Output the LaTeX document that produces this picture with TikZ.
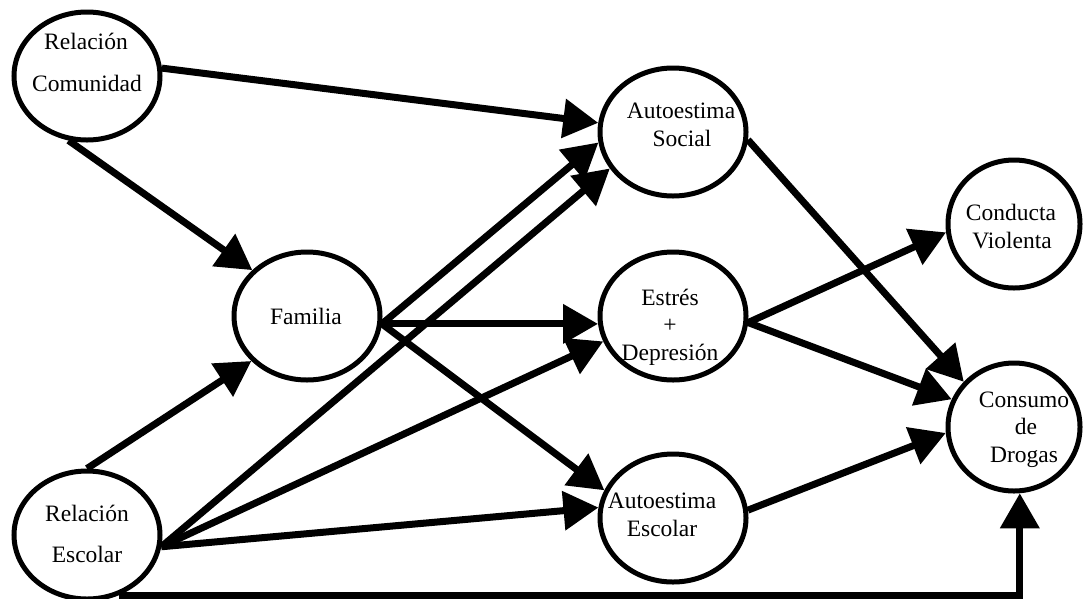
\documentclass[tikz,border=0pt]{standalone}
\usepackage{fontspec}
\setmainfont{Liberation Serif}
\usetikzlibrary{arrows.meta,shapes.geometric}
\begin{document}
\begin{tikzpicture}[x=1pt,y=-1pt,
  blob/.style={ellipse, draw, line width=5pt, inner sep=0pt, minimum width=146pt, minimum height=128pt},
  narrowblob/.style={blob, minimum width=132pt},
  txt/.style={anchor=base, inner sep=0pt, font=\fontsize{23.5}{28}\selectfont},
  arr/.style={line width=7pt, -{Triangle[length=35pt,width=38pt]}}]
\useasboundingbox (0,0) rectangle (1083,598);
% ellipses
\node[blob] (rc) at (87,76) {};
\node[blob] (fam) at (307,316) {};
\node[blob] (as) at (673,132) {};
\node[blob] (ed) at (673,316) {};
\node[blob] (aes) at (673,518) {};
\node[narrowblob] (cv) at (1014,224) {};
\node[narrowblob] (cd) at (1014,427) {};
\node[blob] (re) at (87,535) {};
% texts
\node[txt] (rc1) at (86,49) {Relación};
\node[txt] (rc2) at (87,91) {Comunidad};
\node[txt] (re1) at (87,521) {Relación};
\node[txt] (re2) at (87,562) {Escolar};
\node[txt] (fam1) at (306,324) {Familia};
\node[txt] (as1) at (681,118) {Autoestima};
\node[txt] (as2) at (682,146) {Social};
\node[txt] (ed1) at (670,305) {Estrés};
\node[txt] (ed2) at (670,332) {+};
\node[txt] (ed3) at (670,360) {Depresión};
\node[txt] (aes1) at (662,508) {Autoestima};
\node[txt] (aes2) at (662,536) {Escolar};
\node[txt] (cv1) at (1011,220) {Conducta};
\node[txt] (cv2) at (1012,248) {Violenta};
\node[txt] (cd1) at (1024,407) {Consumo};
\node[txt] (cd2) at (1026,434) {de};
\node[txt] (cd3) at (1024,462) {Drogas};
% connectors
\draw[arr] (rc.6) -- (as.173);
\draw[arr] (rc.254) -- (fam.140);
\draw[arr] (re.90) -- (fam.219);
\draw[arr] (fam.-6) -- (as.188);
\draw[arr] (re.-9) -- (as.210);
\draw[arr] (fam.-6) -- (ed.186);
\draw[arr] (re.-9) -- (ed.200);
\draw[arr] (fam.-6) -- (aes.158);
\draw[arr] (re.-9) -- (aes.172);
\draw[arr] (as.-6) -- (cd.138);
\draw[arr] (ed.-5) -- (cv.187);
\draw[arr] (ed.-5) -- (cd.156);
\draw[arr] (aes.6) -- (cd.185);
\draw[arr] (re.-62) -| (cd.-85);
\end{tikzpicture}
\end{document}
